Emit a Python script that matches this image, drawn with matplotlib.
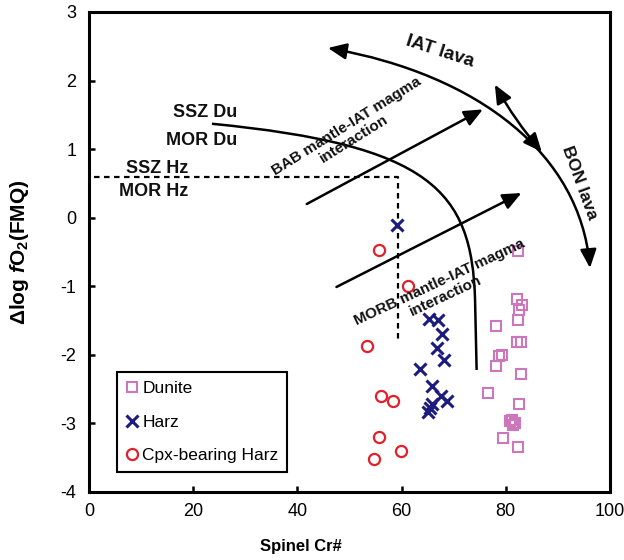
import matplotlib
matplotlib.use("Agg")
import matplotlib.pyplot as plt
from matplotlib.path import Path
from matplotlib.patches import FancyArrowPatch, PathPatch

plt.rcParams["font.family"] = ["Liberation Sans", "DejaVu Sans"]
plt.rcParams["axes.unicode_minus"] = False
plt.rcParams["mathtext.fontset"] = "custom"
plt.rcParams["mathtext.rm"] = "Liberation Sans:bold"
plt.rcParams["mathtext.it"] = "Liberation Sans:italic:bold"
plt.rcParams["mathtext.bf"] = "Liberation Sans:bold"

# sample data (spinel Cr#, delta log fO2)
dunite_cr = [82.4, 82.2, 83.1, 82.6, 82.4, 78.1, 82.1, 83.0, 79.2, 78.6,
             78.1, 82.9, 76.5, 82.5, 81.1, 81.8, 81.4, 80.8, 79.4, 82.4]
dunite_fo2 = [-0.48, -1.19, -1.27, -1.34, -1.49, -1.58, -1.81, -1.81, -2.00, -2.02,
              -2.16, -2.28, -2.55, -2.72, -2.95, -2.99, -3.02, -2.96, -3.21, -3.34]

harz_cr = [59.1, 65.3, 66.9, 67.8, 66.7, 68.1, 63.5, 65.8, 67.6, 68.7, 65.9, 65.5, 65.0]
harz_fo2 = [-0.10, -1.48, -1.49, -1.70, -1.90, -2.08, -2.20, -2.46, -2.60, -2.67,
            -2.72, -2.77, -2.83]

cpx_cr = [55.7, 61.3, 53.3, 56.0, 58.4, 55.7, 59.8, 54.7]
cpx_fo2 = [-0.47, -1.00, -1.87, -2.60, -2.67, -3.20, -3.40, -3.52]

# field boundaries and trends
hz_field_x = [1.0, 59.3, 59.3]
hz_field_y = [0.59, 0.59, -1.83]
du_curve = [(23.6, 1.37), (65.45, 1.06), (73.5, 0.40), (74.1, -1.20), (74.4, -2.22)]
lava_curve = [(45.87, 2.475), (75.05, 2.081), (94.24, 0.915), (96.16, -0.733)]
bab_arrow = [(41.8, 0.20), (75.6, 1.58)]
morb_arrow = [(47.5, -1.01), (83.0, 0.36)]
bend_arrow = [(77.9, 1.94), (86.9, 0.96)]

fig = plt.figure(figsize=(6.24, 5.6), dpi=100)
ax = fig.add_axes([89 / 624, 1 - 492 / 560, 521 / 624, 480 / 560])

ax.plot(dunite_cr, dunite_fo2, ls="none", marker="s", ms=7.5, mfc="none",
        mec="#CC77BB", mew=1.5, label="Dunite", zorder=3)
ax.plot(harz_cr, harz_fo2, ls="none", marker="x", ms=9, mec="#1C1C80",
        mew=2.2, label="Harz", zorder=3)
ax.plot(cpx_cr, cpx_fo2, ls="none", marker="o", ms=8, mfc="none",
        mec="#E0202A", mew=1.6, label="Cpx-bearing Harz", zorder=3)

ax.plot(hz_field_x, hz_field_y, color="black", lw=1.6, ls=(0, (2.5, 2)))

du_path = Path(du_curve, [Path.MOVETO, Path.CURVE4, Path.CURVE4, Path.CURVE4, Path.LINETO])
ax.add_patch(PathPatch(du_path, fill=False, lw=1.8, color="black"))

lava_path = Path(lava_curve, [Path.MOVETO, Path.CURVE4, Path.CURVE4, Path.CURVE4])
ax.add_patch(FancyArrowPatch(path=lava_path, arrowstyle="<|-|>,head_length=0.8,head_width=0.35",
                             mutation_scale=14, lw=1.8, color="black"))

for (x0, y0), (x1, y1) in [bab_arrow, morb_arrow]:
    ax.add_patch(FancyArrowPatch((x0, y0), (x1, y1), arrowstyle="-|>,head_length=0.8,head_width=0.35",
                                 mutation_scale=14, lw=1.8, color="black", shrinkA=0, shrinkB=0))
ax.add_patch(FancyArrowPatch(bend_arrow[0], bend_arrow[1],
                             arrowstyle="<|-|>,head_length=0.8,head_width=0.35",
                             mutation_scale=14, lw=1.8, color="black", shrinkA=0, shrinkB=0,
                             connectionstyle="arc3,rad=0.05"))

bold = dict(fontweight="bold", color="#111111")
ax.text(28.4, 1.53, "SSZ Du", ha="right", va="center", fontsize=13, **bold)
ax.text(28.4, 1.13, "MOR Du", ha="right", va="center", fontsize=13, **bold)
ax.text(19.0, 0.72, "SSZ Hz", ha="right", va="center", fontsize=13, **bold)
ax.text(19.0, 0.375, "MOR Hz", ha="right", va="center", fontsize=13, **bold)
ax.text(50.1, 1.24, "BAB mantle-IAT magma\ninteraction", ha="center", va="center",
        rotation=32, rotation_mode="anchor", fontsize=11, linespacing=1.0, **bold)
ax.text(67.9, -1.04, "MORB mantle-IAT magma\ninteraction", ha="center", va="center",
        rotation=25, rotation_mode="anchor", fontsize=11, linespacing=1.0, **bold)
ax.text(67.4, 2.42, "IAT lava", ha="center", va="center", rotation=-18,
        rotation_mode="anchor", fontsize=13.5, **bold)
ax.text(94.2, 0.51, "BON lava", ha="center", va="center", rotation=-70,
        rotation_mode="anchor", fontsize=12.5, **bold)

ax.set_xlim(0, 100)
ax.set_ylim(-4, 3)
ax.set_xticks([0, 20, 40, 60, 80, 100])
ax.set_yticks([-4, -3, -2, -1, 0, 1, 2, 3])
ax.tick_params(direction="in", length=4, width=1.8, labelsize=13, top=False, right=False)
ax.tick_params(axis="x", pad=8)
ax.tick_params(axis="y", pad=9)
for sp in ax.spines.values():
    sp.set_linewidth(2.2)

ax.set_xlabel("Spinel Cr#", fontsize=12, fontweight="bold")
ax.xaxis.set_label_coords(0.407, -0.098)
ax.set_ylabel(r"$\Delta$log $\it{f}$O$_2$(FMQ)", fontsize=15, fontweight="bold")
ax.yaxis.set_label_coords(-0.112, 0.5)

leg = ax.legend(loc="lower left", bbox_to_anchor=(0.054, 0.042), borderaxespad=0,
                fontsize=12.5, frameon=True, fancybox=False, edgecolor="black",
                framealpha=1, handlelength=0.7, handletextpad=0.25, borderpad=0.5,
                labelspacing=1.06)
leg.get_frame().set_linewidth(1.5)

fig.savefig("out.png", dpi=100)
